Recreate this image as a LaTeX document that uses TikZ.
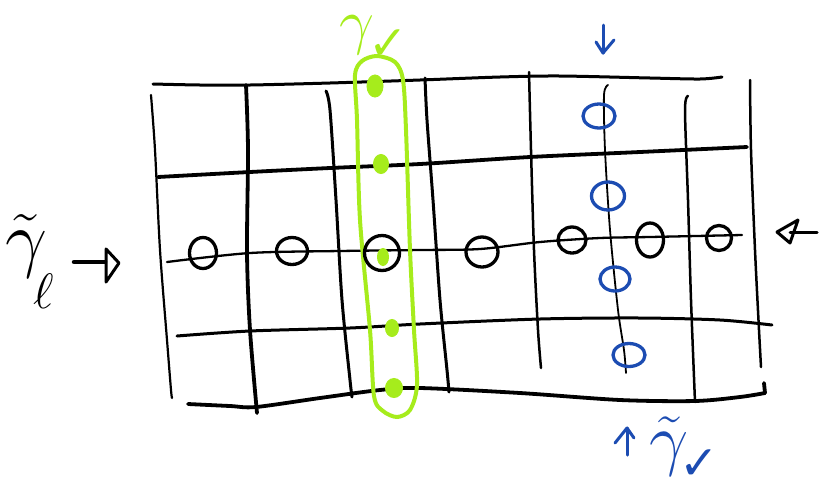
\documentclass[tikz,border=0pt]{standalone}
\usepackage{amssymb}
\usepackage{fontspec}
\newfontfamily\dejavu{DejaVu Sans}
\usetikzlibrary{shapes.geometric}
\definecolor{lime}{RGB}{166,236,28}
\definecolor{penblue}{RGB}{28,76,178}
\tikzset{
  pen/.style={line width=3pt, line cap=round, line join=round},
  thickpen/.style={line width=3.8pt, line cap=round, line join=round},
  thinpen/.style={line width=1.8pt, line cap=round, line join=round},
  site/.style={ellipse, draw, line width=3.3pt, inner sep=0pt},
  bsite/.style={site, draw=penblue},
  gdot/.style={ellipse, fill=lime, draw=lime, line width=1pt, inner sep=0pt},
  lbl/.style={inner sep=0pt, font=\Huge},
  chk/.style={inner sep=0pt, font=\dejavu\Huge},
}
\begin{document}
\begin{tikzpicture}[x=1pt,y=-1pt]
\path[use as bounding box] (0,0) rectangle (819,483);

% horizontal lines
\draw[pen] plot[smooth] coordinates {(153,84) (200,85) (250,85) (330,83) (420,80) (500,77) (560,76) (650,78) (700,79) (722,77)};
\draw[thickpen] plot[smooth] coordinates {(158,177) (250,172) (330,168) (420,164) (530,157) (640,152) (747,147)};
\draw[pen,line width=2.3pt] plot[smooth] coordinates {(167,262) (250,253) (340,251) (420,250) (480,249) (540,242) (600,238) (650,237) (742,235)};
\draw[pen] plot[smooth] coordinates {(177,336) (250,331) (350,328) (420,324) (540,319) (640,318) (720,320) (772,325)};
\draw[thickpen] plot[smooth] coordinates {(188,404) (230,406) (256,407) (320,398) (380,390) (420,388) (520,393) (620,400) (695,401) (740,397) (765,393)};
\draw[thickpen] (765,393) -- (764,383);

% vertical lines
\draw[thinpen,line width=2.2pt] plot[smooth] coordinates {(151,95) (155,150) (160,250) (167,340) (171,390) (172,398)};
\draw[thickpen] plot[smooth] coordinates {(246,85) (248,150) (247,253) (250,330) (257,413)};
\draw[pen] plot[smooth] coordinates {(326,91) (330,110) (336,200) (342,300) (350,380) (352,397)};
\draw[pen] plot[smooth] coordinates {(425,78) (427,120) (433,200) (440,300) (447,370) (449,392)};
\draw[pen,line width=2.5pt] plot[smooth] coordinates {(529,72) (531,150) (534,250) (538,330) (541,368)};
\draw[thinpen] plot[smooth] coordinates {(608,85) (604,95) (605,150) (610,230) (618,310) (624,350) (626,373)};
\draw[pen,line width=2.5pt] plot[smooth] coordinates {(688,96) (685,110) (688,200) (691,300) (695,402)};
\draw[pen,line width=2.5pt] plot[smooth] coordinates {(750,80) (751,150) (755,250) (759,330) (761,367)};

% green capsule
\draw[lime,line width=4pt] plot[smooth cycle] coordinates {(377,56) (395,62) (403,80) (406,130) (410,250) (414,330) (417,385) (410,410) (397,417) (383,411) (374,396) (370,330) (360,220) (357,120) (355,75) (362,61)};

% black sites
\node[site, minimum width=27pt, minimum height=31pt] (c1) at (203,253) {};
\node[site, minimum width=31pt, minimum height=27pt] (c2) at (292,251) {};
\node[site, minimum width=35pt, minimum height=35pt] (c3) at (382,253) {};
\node[site, minimum width=32pt, minimum height=30pt] (c4) at (482,252) {};
\node[site, minimum width=28pt, minimum height=26pt] (c5) at (572,240) {};
\node[site, minimum width=27pt, minimum height=34pt] (c6) at (650,240) {};
\node[site, minimum width=25pt, minimum height=25pt] (c7) at (719,238) {};

% blue sites
\node[bsite, minimum width=32pt, minimum height=24pt] (b1) at (599,116) {};
\node[bsite, minimum width=33pt, minimum height=28pt] (b2) at (608,196) {};
\node[bsite, minimum width=30pt, minimum height=24pt] (b3) at (615,279) {};
\node[bsite, minimum width=32pt, minimum height=23pt] (b4) at (629,355) {};

% green dots
\node[gdot, minimum width=16pt, minimum height=22pt] (g1) at (375,86) {};
\node[gdot, minimum width=15pt, minimum height=19pt] (g2) at (381,164) {};
\node[gdot, minimum width=11pt, minimum height=17pt] (g3) at (383,257) {};
\node[gdot, minimum width=13pt, minimum height=17pt] (g4) at (392,328) {};
\node[gdot, minimum width=17pt, minimum height=19pt] (g5) at (394,388) {};

% labels
\node[lbl, scale=2.5, text=lime] (ggam) at (357,35) {$\gamma$};
\node[chk, scale=1.9, text=lime] (gchk) at (388,45) {✓};
\node[lbl, scale=3.0] (lgam) at (26,246) {$\tilde{\gamma}$};
\node[lbl, scale=2.0] (lell) at (44,291) {$\ell$};
\node[lbl, scale=2.8, text=penblue] (bgam) at (669,446) {$\tilde{\gamma}$};
\node[chk, scale=1.9, text=penblue] (bchk) at (699,465) {✓};

% arrows
\coordinate (la0) at (74,262);
\coordinate (la1) at (105,262);
\coordinate (lt1) at (106,249);
\coordinate (lt2) at (119,263);
\coordinate (lt3) at (106,282);
\draw[pen,line width=4.5pt] (la0) -- (la1);
\draw[pen] (lt1) -- (lt2) -- (lt3) -- cycle;
\coordinate (ra0) at (817,232);
\coordinate (ra1) at (790,232);
\coordinate (rt1) at (777,232);
\coordinate (rt2) at (798,220);
\coordinate (rt3) at (790,243);
\draw[pen] (ra0) -- (ra1);
\draw[pen] (rt1) -- (rt2) -- (rt3) -- cycle;
\coordinate (ba0) at (603,25);
\coordinate (ba1) at (603,53);
\coordinate (bl) at (596,42);
\coordinate (br) at (614,40);
\draw[penblue,pen] (ba0) -- (ba1);
\draw[penblue,pen] (bl) -- (ba1) -- (br);
\coordinate (bb0) at (627,455);
\coordinate (bb1) at (627,428);
\coordinate (bbl) at (615,443);
\coordinate (bbr) at (634,438);
\draw[penblue,pen] (bb0) -- (bb1);
\draw[penblue,pen] (bbl) -- (bb1) -- (bbr);
\end{tikzpicture}
\end{document}
